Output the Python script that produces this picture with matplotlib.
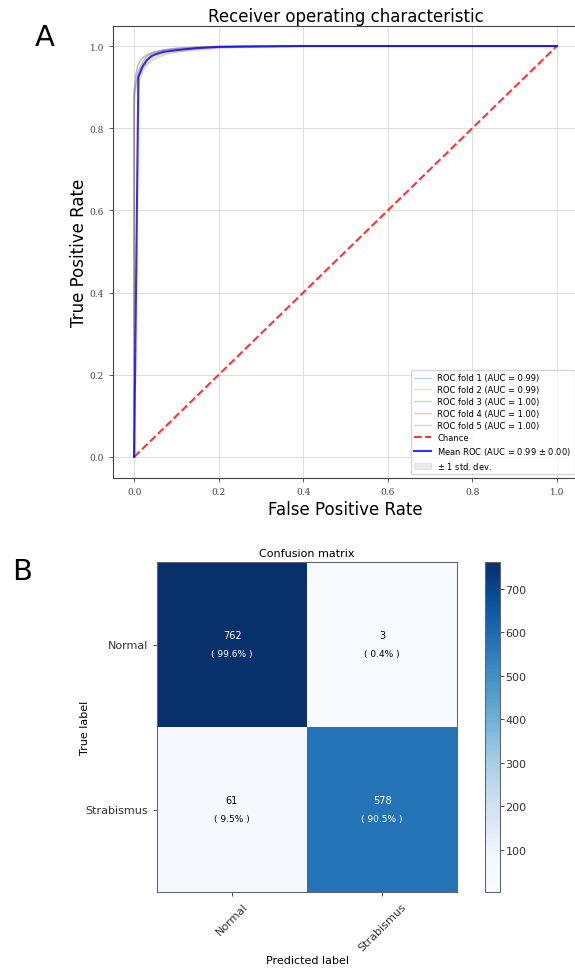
import matplotlib
matplotlib.use("Agg")
import matplotlib.pyplot as plt
from matplotlib.colors import ListedColormap
import numpy as np

# ---- panel A data: ROC curves ----
fold_fpr = [
    [0, 0.0, 0.005, 0.01, 0.02, 0.03, 0.05, 0.08, 0.12, 0.2, 0.3, 1.0],
    [0, 0.0, 0.004, 0.01, 0.02, 0.04, 0.06, 0.09, 0.14, 0.22, 0.35, 1.0],
    [0, 0.0, 0.003, 0.008, 0.015, 0.03, 0.05, 0.07, 0.1, 0.18, 0.28, 1.0],
    [0, 0.0, 0.005, 0.01, 0.02, 0.03, 0.045, 0.07, 0.11, 0.17, 0.25, 1.0],
    [0, 0.0, 0.004, 0.009, 0.018, 0.03, 0.05, 0.08, 0.12, 0.19, 0.3, 1.0],
]
fold_tpr = [
    [0, 0.88, 0.91, 0.935, 0.955, 0.968, 0.978, 0.987, 0.993, 0.997, 1.0, 1.0],
    [0, 0.85, 0.89, 0.92, 0.945, 0.962, 0.974, 0.984, 0.990, 0.996, 1.0, 1.0],
    [0, 0.89, 0.925, 0.95, 0.965, 0.978, 0.986, 0.991, 0.995, 0.998, 1.0, 1.0],
    [0, 0.88, 0.915, 0.94, 0.962, 0.975, 0.984, 0.990, 0.995, 0.998, 1.0, 1.0],
    [0, 0.89, 0.93, 0.955, 0.97, 0.98, 0.987, 0.992, 0.996, 0.999, 1.0, 1.0],
]
fold_auc = [0.99, 0.99, 1.00, 1.00, 1.00]

mean_fpr = [0, 0.01, 0.02, 0.03, 0.04, 0.05, 0.07, 0.1, 0.15, 0.2, 0.3, 0.4, 1.0]
mean_tpr = [0, 0.925, 0.95, 0.965, 0.975, 0.98, 0.986, 0.99, 0.995, 0.998, 0.999, 1.0, 1.0]
std_tpr = [0, 0.015, 0.012, 0.01, 0.008, 0.007, 0.005, 0.004, 0.003, 0.002, 0.001, 0.0, 0.0]
mean_auc = 0.99
std_auc = 0.00

# ---- panel B data: confusion matrix ----
classes = ["Normal", "Strabismus"]
cm = np.array([[762, 3],
               [61, 578]])
cm_pct = [[99.6, 0.4],
          [9.5, 90.5]]
cbar_ticks = [100, 200, 300, 400, 500, 600, 700]

fig = plt.figure(figsize=(5.75, 9.78), dpi=100)

#panel A
ax = fig.add_axes([113/575, 1 - 478.5/978, 465/575, 452/978])
for i in range(len(fold_fpr)):
    ax.plot(fold_fpr[i], fold_tpr[i], lw=1, alpha=0.3,
            label="ROC fold %d (AUC = %0.2f)" % (i + 1, fold_auc[i]))
ax.plot([0, 1], [0, 1], linestyle="--", lw=1.5, color="r", alpha=0.8, label="Chance")
ax.plot(mean_fpr, mean_tpr, color="b", lw=1.5, alpha=0.8,
        label=r"Mean ROC (AUC = %0.2f $\pm$ %0.2f)" % (mean_auc, std_auc))
upper = np.minimum(np.array(mean_tpr) + np.array(std_tpr), 1)
lower = np.maximum(np.array(mean_tpr) - np.array(std_tpr), 0)
ax.fill_between(mean_fpr, lower, upper, color="grey", alpha=0.15, label=r"$\pm$ 1 std. dev.")
ax.set_xlim(-0.05, 1.05)
ax.set_ylim(-0.05, 1.05)
ax.grid(True, color="#d8d8d8", lw=0.6)
ax.set_axisbelow(True)
for lab in ax.get_xticklabels() + ax.get_yticklabels():
    lab.set_family("DejaVu Serif")
ax.tick_params(labelsize=6.5, colors="#444444", width=0.6, length=3)
ax.set_xlabel("False Positive Rate", fontsize=12, labelpad=3)
ax.set_ylabel("True Positive Rate", fontsize=12, labelpad=1)
ax.set_title("Receiver operating characteristic", fontsize=12, pad=2)
ax.legend(loc="lower right", fontsize=6, framealpha=0.8, borderaxespad=0.4,
          labelspacing=0.35)
for s in ax.spines.values():
    s.set_color("#444444")
fig.text(45/575, 1 - 38/978, "A", fontsize=21, ha="center", va="center")

#panel B
base = plt.cm.Blues(np.interp(np.linspace(0, 1, 256), [0, 0.1, 0.3, 1], [0, 0.015, 0.25, 1]))
blues = ListedColormap(base)
ax2 = fig.add_axes([157/575, 1 - 893/978, 300/575, 330/978])
im = ax2.imshow(cm, interpolation="nearest", cmap=blues, aspect="auto")
ax2.set_title("Confusion matrix", fontsize=8, pad=4)
ticks = np.arange(len(classes))
ax2.set_xticks(ticks)
ax2.set_xticklabels(classes, rotation=45, fontsize=8)
ax2.set_yticks(ticks)
ax2.set_yticklabels(classes, fontsize=8)
thresh = cm.max() / 2.0
for i in range(cm.shape[0]):
    for j in range(cm.shape[1]):
        c = "white" if cm[i, j] > thresh else "black"
        ax2.text(j, i - 0.03, str(cm[i, j]), ha="center", va="bottom", fontsize=7, color=c)
        ax2.text(j, i + 0.03, "( %.1f%% )" % cm_pct[i][j], ha="center", va="top",
                 fontsize=6.5, color=c)
ax2.set_ylabel("True label", fontsize=8)
ax2.yaxis.set_label_coords(-0.225, 0.5)
ax2.set_xlabel("Predicted label", fontsize=8, labelpad=2)
for s in ax2.spines.values():
    s.set_color("#666666")
ax2.tick_params(colors="#333333", width=0.6, length=3)

cax = fig.add_axes([485/575, 1 - 893/978, 15/575, 330/978])
cb = fig.colorbar(im, cax=cax, ticks=cbar_ticks)
cb.ax.tick_params(labelsize=8, colors="#333333", width=0.6, length=3, pad=1)
cb.outline.set_edgecolor("#666666")
fig.text(22/575, 1 - 572/978, "B", fontsize=21, ha="center", va="center")

fig.savefig("out.png", dpi=100)
